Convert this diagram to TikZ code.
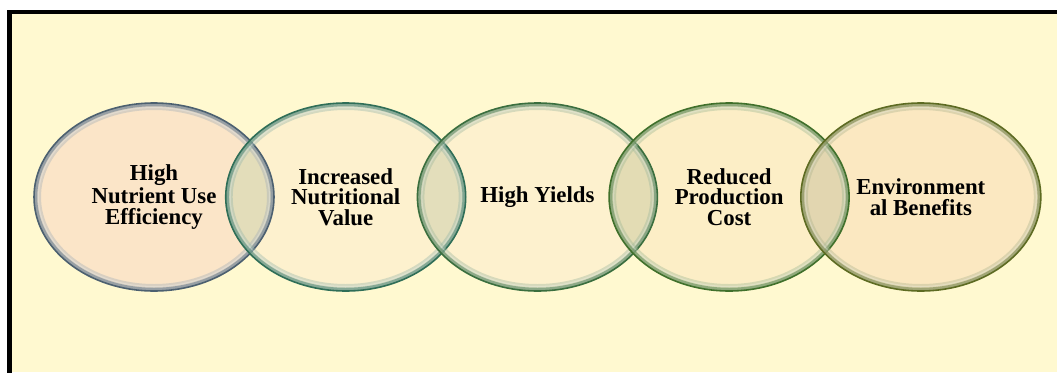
\documentclass[tikz,border=0pt]{standalone}
\usepackage{fontspec}
\setmainfont{Liberation Serif}
\usetikzlibrary{shapes.geometric, positioning}

\definecolor{paper}{HTML}{FFF9D0}
\definecolor{overlap}{HTML}{7F9470}
% rim and fill colours of the five bubbles
\definecolor{slaterim}{HTML}{4C6070}
\definecolor{searim}{HTML}{2F6E57}
\definecolor{leafrim}{HTML}{3A6E3E}
\definecolor{mossrim}{HTML}{40702B}
\definecolor{olivrim}{HTML}{5D6B22}
\definecolor{peachfill}{HTML}{FBE4C8}
\definecolor{creamfill}{HTML}{FDF1CE}
\definecolor{sandfill}{HTML}{FCEEC6}
\definecolor{wheatfill}{HTML}{FBE7C0}

\tikzset{
    bubble/.style={ellipse, minimum width=4.8cm, minimum height=3.76cm, inner sep=0pt,
        align=center, fill opacity=0.92, text opacity=1,
        font=\fontsize{13}{11.8}\selectfont\bfseries},
}

\begin{document}
\begin{tikzpicture}
    \useasboundingbox (0, 0) rectangle (21.14, 7.44);

    % Page and frame
    \fill[paper] (0.19, 0) rectangle (21.14, 7.2);
    \draw[line width=0.09cm, line join=miter] (0.19, -0.1) -- (0.19, 7.2) -- (21.3, 7.2);

    % Bubbles
    \node[bubble, fill=peachfill] (eff) at (3.08, 3.5) {High\\Nutrient Use\\Efficiency};
    \node[bubble, fill=creamfill, right=-0.98cm of eff] (nutr) {Increased\\Nutritional\\Value};
    \node[bubble, fill=creamfill, right=-0.98cm of nutr] (yld) {High Yields};
    \node[bubble, fill=sandfill, right=-0.98cm of yld] (cost) {Reduced\\Production\\Cost};
    \node[bubble, fill=wheatfill, right=-0.98cm of cost] (env) {Environment\\al Benefits};

    % Shaded lens where two bubbles meet
    \foreach \a/\b in {eff/nutr, nutr/yld, yld/cost, cost/env} {
        \begin{scope}
            \clip (\a.center) ellipse (2.4 and 1.88);
            \fill[overlap, opacity=0.2] (\b.center) ellipse (2.4 and 1.88);
        \end{scope}
    }

    % Glassy rims
    \foreach \n/\col in {eff/slaterim, nutr/searim, yld/leafrim, cost/mossrim, env/olivrim} {
        \begin{scope}
            \clip (\n.center) ellipse (2.4 and 1.88);
            \draw[\col!50, line width=0.28cm, opacity=0.4] (\n.center) ellipse (2.4 and 1.88);
            \draw[\col!70, line width=0.13cm, opacity=0.75] (\n.center) ellipse (2.4 and 1.88);
            \draw[white, line width=0.6pt, opacity=0.25] (\n.center) ellipse (2.31 and 1.79);
        \end{scope}
        \draw[\col, line width=0.9pt] (\n.center) ellipse (2.4 and 1.88);
    }
\end{tikzpicture}
\end{document}
